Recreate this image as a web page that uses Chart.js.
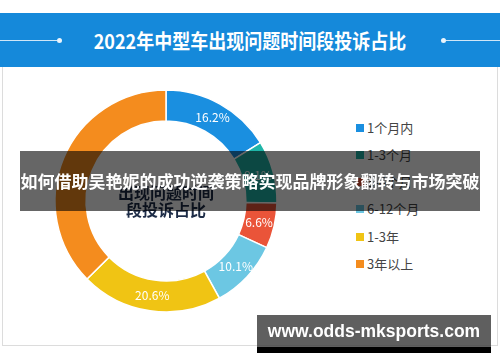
<!DOCTYPE html>
<html>
<head>
<meta charset="utf-8">
<script src="https://cdn.jsdelivr.net/npm/chart.js@4/dist/chart.umd.min.js"></script>
<style>
html,body{margin:0;padding:0;width:500px;height:362px;overflow:hidden;background:#fff;font-family:"Noto Sans CJK SC","Noto Sans",sans-serif;}
#header{position:absolute;left:0;top:13px;width:500px;height:54px;background:#1589da;}
#title{position:absolute;left:0;top:0;width:500px;height:54px;line-height:54px;text-align:center;color:#fff;font-weight:bold;font-size:18px;white-space:nowrap;transform:scaleY(1.12);}
.hl{position:absolute;top:27px;height:1px;background:#cfe6f7;}
.dot{position:absolute;top:25px;width:5px;height:5px;border-radius:50%;background:#eaf4fc;}
#panel{position:absolute;left:2px;top:67px;width:494px;height:278px;border:1px solid #dcdcdc;border-top:none;background:#fff;}
#chartBox{position:absolute;left:46px;top:81px;width:240px;height:240px;}
#center{position:absolute;left:106px;top:184px;width:120px;text-align:center;color:#1d2c47;font-weight:bold;font-size:16px;line-height:17px;}
#legend{position:absolute;left:356px;top:0;}
.item{position:absolute;left:0;height:16px;white-space:nowrap;font-size:13px;line-height:16px;color:#444;}
.sw{position:absolute;left:0;top:4px;width:8px;height:8px;}
.lt{position:absolute;left:11px;top:0;}
#banner{position:absolute;left:20px;top:151px;width:460px;height:60px;background:rgba(0,0,0,0.6);color:#fff;font-weight:bold;font-size:17px;line-height:60px;text-align:center;white-space:nowrap;}
#wm{position:absolute;left:257px;top:315px;width:234px;height:32px;background:rgba(60,60,60,0.82);color:#fff;font-family:"Liberation Sans",Arial,sans-serif;font-weight:bold;font-size:17.5px;line-height:32px;text-align:center;}
#wmbar{position:absolute;left:257px;top:347px;width:234px;height:6px;background:#000;}
</style>
</head>
<body>
<div id="header">
  <div class="hl" style="left:0;width:57px;"></div>
  <div class="dot" style="left:57px;"></div>
  <div id="title">2022年中型车出现问题时间段投诉占比</div>
  <div class="dot" style="left:441px;"></div>
  <div class="hl" style="left:446px;width:54px;"></div>
</div>
<div id="panel"></div>
<div id="chartBox"><canvas id="c" width="240" height="240"></canvas></div>
<div id="center"></div>
<div id="legend"></div>
<div id="banner">如何借助吴艳妮的成功逆袭策略实现品牌形象翻转与市场突破</div>
<div id="wm">www.odds-mksports.com</div>
<div id="wmbar"></div>
<script>
const categories = ['1个月内', '1-3个月', '3-6个月', '6-12个月', '1-3年', '3年以上'];
const shares = [16.2, 9.1, 6.6, 10.1, 20.6, 37.4];
const shownLabels = [true, true, true, true, true, false];
const palette = ['#1a8fe0', '#1fb5a8', '#ea5439', '#6cc7e3', '#f0c414', '#f48c1e'];
const centerLines = ['出现问题时间', '段投诉占比'];

document.getElementById('center').innerHTML = centerLines.join('<br>');

const legend = document.getElementById('legend');
const legendTops = [120, 147, 174, 201, 229, 256];
categories.forEach((cat, i) => {
  const d = document.createElement('div');
  d.className = 'item';
  d.style.top = legendTops[i] + 'px';
  d.innerHTML = '<span class="sw" style="background:' + palette[i] + '"></span><span class="lt">' + cat + '</span>';
  legend.appendChild(d);
});

const sliceLabels = {
  id: 'sliceLabels',
  afterDatasetsDraw(chart) {
    const ctx = chart.ctx;
    const meta = chart.getDatasetMeta(0);
    ctx.save();
    ctx.fillStyle = '#ffffff';
    ctx.font = '12px "Noto Sans CJK SC", "Noto Sans", sans-serif';
    ctx.textAlign = 'center';
    ctx.textBaseline = 'middle';
    meta.data.forEach((arc, i) => {
      if (!shownLabels[i]) return;
      const p = arc.tooltipPosition();
      ctx.fillText(shares[i].toFixed(1) + '%', p.x, p.y);
    });
    ctx.restore();
  }
};

new Chart(document.getElementById('c'), {
  type: 'doughnut',
  data: {
    labels: categories,
    datasets: [{
      data: shares,
      backgroundColor: palette,
      borderColor: '#ffffff',
      borderWidth: 1.5
    }]
  },
  options: {
    responsive: false,
    animation: false,
    radius: 111,
    cutout: '72%',
    layout: { padding: 0 },
    plugins: {
      legend: { display: false },
      tooltip: { enabled: false },
      title: { display: false }
    }
  },
  plugins: [sliceLabels]
});
</script>
</body>
</html>
